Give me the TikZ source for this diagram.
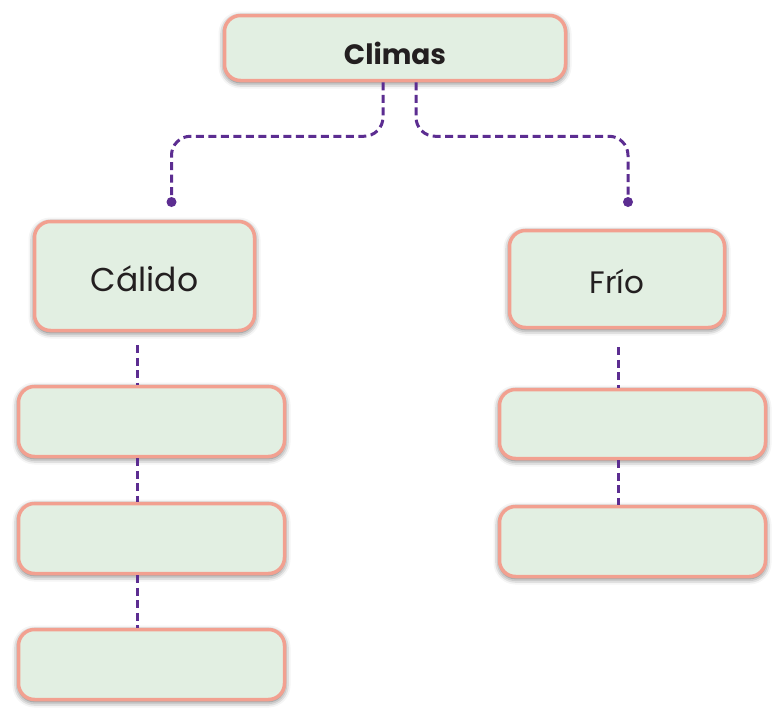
\documentclass[tikz,border=0pt]{standalone}
\usepackage{fontspec}
\setmainfont{Poppins}
\usetikzlibrary{shadows.blur}
\definecolor{boxfill}{HTML}{E2EFE2}
\definecolor{boxline}{HTML}{F2A090}
\definecolor{connc}{HTML}{5C2D91}
\definecolor{txt}{HTML}{231F20}
\begin{document}
\begin{tikzpicture}[x=1pt,y=-1pt,
  box/.style={draw=boxline, fill=boxfill, line width=3.5pt, rounded corners=16pt,
    blur shadow={shadow xshift=0pt, shadow yshift=-2pt, shadow blur radius=6pt, shadow opacity=65},
    inner sep=0pt, text=txt, align=center},
  conn/.style={draw=connc, line width=3pt, dash pattern=on 8pt off 4.5pt},
  dotc/.style={fill=connc}]
\useasboundingbox (0,0) rectangle (774,712);
\node[box, minimum width=341pt, minimum height=65pt, font=\fontsize{28}{32}\selectfont\bfseries] (climas) at (395,48) {\raisebox{-17pt}[0pt][0pt]{Climas}};
\node[box, minimum width=220pt, minimum height=109pt, font=\fontsize{33}{38}\selectfont] (calido) at (144.5,276) {\raisebox{-15pt}[0pt][0pt]{Cálido}};
\node[box, minimum width=266pt, minimum height=70pt] (L2) at (151.5,421.5) {};
\node[box, minimum width=266pt, minimum height=70pt] (L3) at (151.5,538.5) {};
\node[box, minimum width=266pt, minimum height=70pt] (L4) at (151.5,664.5) {};
\node[box, minimum width=215pt, minimum height=97pt, font=\fontsize{31}{36}\selectfont] (frio) at (617,279) {\raisebox{-14pt}[0pt][0pt]{Frío}};
\node[box, minimum width=266pt, minimum height=69pt] (R2) at (632.5,424) {};
\node[box, minimum width=266pt, minimum height=70pt] (R3) at (632.5,541.5) {};
\coordinate (ldot) at (171.5,202);
\coordinate (rdot) at (628,202);
\draw[conn, rounded corners=19pt] ([xshift=-12pt]climas.south) -- ++(0,54) -| (ldot);
\draw[conn, rounded corners=19pt] ([xshift=21pt]climas.south) -- ++(0,54) -| (rdot);
\fill[dotc] (ldot) circle (5pt);
\fill[dotc] (rdot) circle (5pt);
\draw[conn] ([xshift=-7.5pt,yshift=-13pt]calido.south) -- ([xshift=-14.5pt]L2.north);
\draw[conn] ([xshift=-14.5pt]L2.south) -- ([xshift=-14.5pt]L3.north);
\draw[conn] ([xshift=-14.5pt]L3.south) -- ([xshift=-14.5pt]L4.north);
\draw[conn] ([xshift=1pt,yshift=-18pt]frio.south) -- ([xshift=-14.5pt]R2.north);
\draw[conn] ([xshift=-14.5pt]R2.south) -- ([xshift=-14.5pt]R3.north);
\end{tikzpicture}
\end{document}
